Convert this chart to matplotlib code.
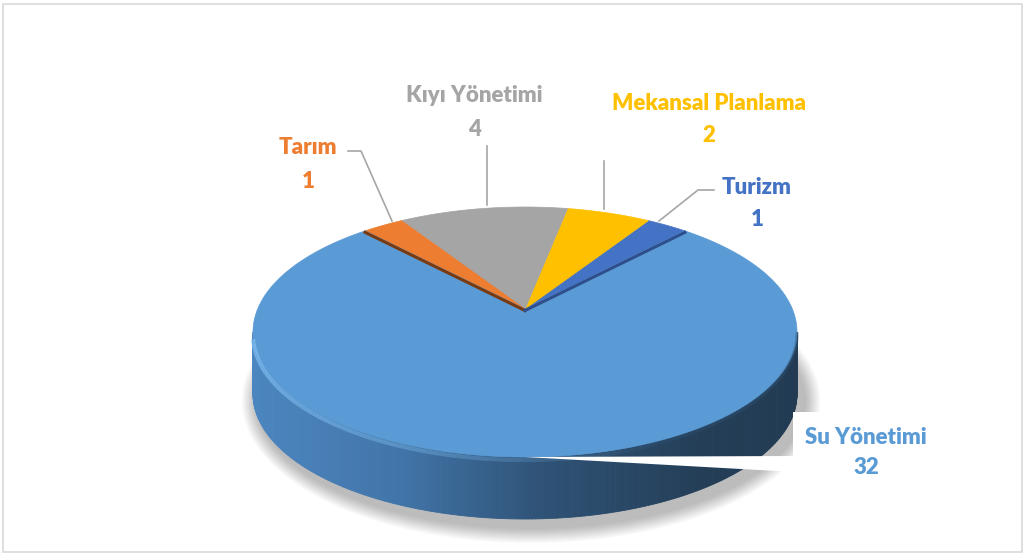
import numpy as np
import matplotlib
matplotlib.use("Agg")
import matplotlib.pyplot as plt
from matplotlib.patches import Polygon, Rectangle, Ellipse
from matplotlib.colors import to_rgb

# ---- data (counter-clockwise order, starting from Turizm) ----
categories = ["Turizm", "Mekansal Planlama", "Kıyı Yönetimi", "Tarım", "Su Yönetimi"]
values = [1, 2, 4, 1, 32]
colors = ["#4472C4", "#FFC000", "#A5A5A5", "#ED7D31", "#5B9BD5"]
start_angle = 54.0

# ---- layout (pixel space) ----
W, H = 1027, 554
cx, cy = 525.0, 332.0
a, b = 272.0, 125.0
apex = (525.0, 309.0)
depth = 62.0

fig = plt.figure(figsize=(W / 100, H / 100), dpi=100)
ax = fig.add_axes([0, 0, 1, 1])
ax.set_xlim(0, W)
ax.set_ylim(H, 0)
ax.axis("off")

# frame
ax.add_patch(Rectangle((3, 4), 1019, 548, fill=False, ec="#D9D9D9", lw=1.2, zorder=0))


def rim(t_deg):
    t = np.radians(t_deg)
    return cx + a * np.cos(t), cy - b * np.sin(t)

# shadow
for i in range(14):
    ax.add_patch(Ellipse((cx + 6, cy + depth + 7), 2 * a + 6 + i * 2.2, 2 * b + 6 + i * 2.2,
                         fc="#000000", ec="none", alpha=0.02, zorder=1))

# side of pie (front half only visible, belongs to Su Yönetimi)
stops_x = [253, 400, 540, 700, 800]
stops_c = [to_rgb("#4C86C0"), to_rgb("#4175A9"), to_rgb("#2F5377"), to_rgb("#243E57"), to_rgb("#223B53")]
ts = np.linspace(180, 360, 241)
for t0, t1 in zip(ts[:-1], ts[1:]):
    x0, y0 = rim(t0)
    x1, y1 = rim(t1)
    xm = 0.5 * (x0 + x1)
    col = [np.interp(xm, stops_x, [c[k] for c in stops_c]) for k in range(3)]
    ax.add_patch(Polygon([(x0, y0), (x1, y1), (x1, y1 + depth), (x0, y0 + depth)],
                         closed=True, fc=col, ec=col, lw=0.6, zorder=2))

# top faces of slices
cum = start_angle
for cat, val, col in zip(categories, values, colors):
    span = 360.0 * val / sum(values)
    tt = np.linspace(cum, cum + span, max(int(span * 2), 4))
    pts = [apex] + [rim(t) for t in tt]
    ax.add_patch(Polygon(pts, closed=True, fc=col, ec=col, lw=0.5, zorder=3))
    cum += span

# bevel highlight along front edge
tt = np.linspace(182, 300, 120)
for t0, t1 in zip(tt[:-1], tt[1:]):
    x0, y0 = rim(t0)
    x1, y1 = rim(t1)
    alpha = 0.8 * (1 - (t0 - 182) / 118)
    ax.plot([x0, x1], [y0 + 3, y1 + 3], color="#7FBDF0", lw=3, alpha=alpha,
            solid_capstyle="butt", zorder=3.5)
tt = np.linspace(295, 360, 80)
xs, ys = zip(*[rim(t) for t in tt])
ax.plot(xs, np.array(ys) + 2, color="#2F5377", lw=2.5, alpha=0.4, zorder=3.5)

# cut faces of small slices
angles_cum = np.cumsum([0] + values) / sum(values) * 360 + start_angle
xl, yl = rim(angles_cum[4])
ax.plot([apex[0], xl], [apex[1] + 1.5, yl + 1.5], color="#7A3A10", lw=2.2, zorder=3.6)
xr, yr = rim(angles_cum[0])
ax.plot([apex[0], xr], [apex[1] + 1.5, yr + 1.5], color="#2E4E8C", lw=2.2, zorder=3.6)

# label box for Su Yönetimi (white, over the pie)
ax.add_patch(Polygon([(525, 457), (795, 456), (795, 472)], closed=True, fc="white", ec="none", zorder=5))
ax.add_patch(Rectangle((793, 412), 150, 75, fc="white", ec="none", zorder=5))

# leader lines
lc = "#A6A6A6"
ax.plot([348, 361, 392], [151, 151, 221], color=lc, lw=1.2, zorder=4)
ax.plot([487, 487], [146, 205], color=lc, lw=1.2, zorder=4)
ax.plot([604, 604], [161, 209], color=lc, lw=1.2, zorder=4)
ax.plot([714, 698, 659], [190, 190, 221], color=lc, lw=1.2, zorder=4)

# data labels
font = dict(family=["Lato", "DejaVu Sans"], fontsize=16, fontweight="heavy", ha="center", va="center", zorder=6)
label_pos = {
    "Turizm": (757, 187, 220),
    "Mekansal Planlama": (709, 103, 135),
    "Kıyı Yönetimi": (474, 95, 129),
    "Tarım": (308, 148, 181),
    "Su Yönetimi": (866, 437, 467),
}
for cat, val, col in zip(categories, values, colors):
    x, y1, y2 = label_pos[cat]
    ax.text(x, y1, cat, color=col, **font)
    ax.text(x, y2, str(val), color=col, **font)

fig.savefig("out.png", dpi=100)
